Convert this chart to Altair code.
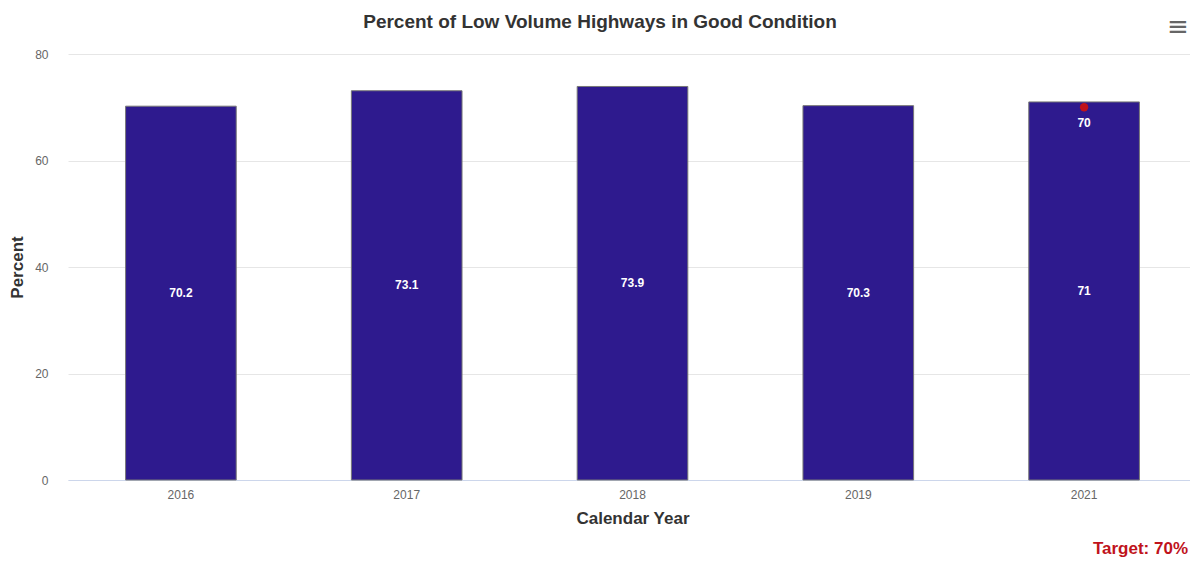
import altair as alt
import pandas as pd

years = ["2016", "2017", "2018", "2019", "2021"]
values = [70.2, 73.1, 73.9, 70.3, 71]
target_year = ["2021"]
target_value = [70]
title_text = "Percent of Low Volume Highways in Good Condition"
target_label = "Target: 70%"

df = pd.DataFrame({"year": years, "value": values})
df["mid"] = df["value"] / 2
df["label"] = [f"{v:g}" for v in values]
tdf = pd.DataFrame({"year": target_year, "value": target_value})
tdf["label"] = [f"{v:g}" for v in target_value]

FONT = "Liberation Sans"

xenc = alt.X("year:N", title="Calendar Year", sort=years,
             scale=alt.Scale(paddingInner=0.51, paddingOuter=0.255, range=[0, 1129]),
             axis=alt.Axis(labelAngle=0, labelColor="#666666", labelFontSize=12,
                           labelFont=FONT, titleFont=FONT, titleFontSize=17,
                           titleFontWeight="bold", titleColor="#333333",
                           domainColor="#ccd6eb", ticks=False, labelPadding=9,
                           titlePadding=10, grid=False))

base = alt.Chart(df)

bars = base.mark_bar(color="#2E1A8E", stroke="#777777", strokeWidth=1).encode(
    x=xenc,
    y=alt.Y("value:Q", title="Percent",
            scale=alt.Scale(domain=[0, 80]),
            axis=alt.Axis(values=[0, 20, 40, 60, 80], labelColor="#666666",
                          labelFontSize=12, labelFont=FONT, titleFont=FONT,
                          titleFontSize=17, titleFontWeight="bold",
                          titleColor="#333333", domain=False, ticks=False,
                          gridColor="#e6e6e6", labelPadding=20,
                          titleX=-51, titleY=213, titleAngle=-90,
                          titleAlign="center", titleBaseline="middle")),
)

labels = base.mark_text(color="white", fontWeight="bold", fontSize=12, font=FONT).encode(
    x=alt.X("year:N", sort=years),
    y=alt.Y("mid:Q"),
    text="label:N",
)

tbase = alt.Chart(tdf)
dot = tbase.mark_point(filled=True, color="#C0131B", size=70, opacity=1).encode(
    x=alt.X("year:N", sort=years),
    y=alt.Y("value:Q"),
)
dotlabel = tbase.mark_text(color="white", fontWeight="bold", fontSize=12, font=FONT, dy=16).encode(
    x=alt.X("year:N", sort=years),
    y=alt.Y("value:Q"),
    text="label:N",
)

title_mark = alt.Chart(pd.DataFrame({"t": [title_text]})).mark_text(
    color="#333333", fontWeight="bold", fontSize=19, font=FONT, align="center",
    baseline="middle").encode(
    x=alt.value(532), y=alt.value(-32), text="t:N")

target_text = alt.Chart(pd.DataFrame({"t": [target_label]})).mark_text(
    color="#C0131B", fontWeight="bold", fontSize=17, font=FONT, align="right",
    baseline="middle").encode(
    x=alt.value(1120), y=alt.value(495), text="t:N")

menu = alt.Chart(pd.DataFrame({"t": ["≡"]})).mark_text(
    color="#666666", fontSize=26, font="DejaVu Sans", align="center",
    baseline="middle").encode(
    x=alt.value(1110), y=alt.value(-27), text="t:N")

chart = alt.layer(bars, labels, dot, dotlabel, title_mark, target_text, menu).properties(
    width=1122, height=426,
    background="white",
    padding={"left": 60, "top": 46, "right": 0, "bottom": 79},
    autosize=alt.AutoSizeParams(type="none"),
).configure_view(stroke="transparent", strokeWidth=0)

chart.save("out.html", embed_options={"renderer": "svg", "actions": False})
